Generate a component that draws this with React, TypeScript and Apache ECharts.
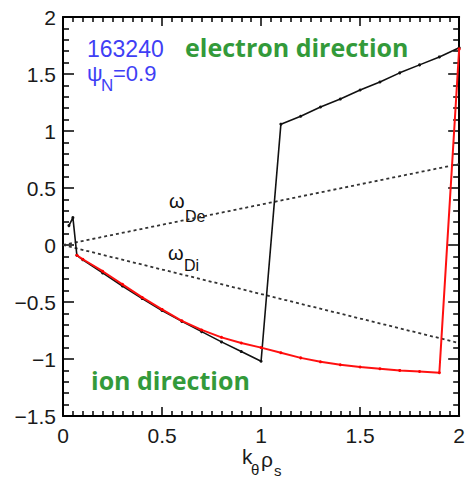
import React, { useEffect, useRef } from "react";
import * as echarts from "echarts";

// k_theta rho_s values for the solid curves
const kBlack = [0.03, 0.05, 0.07, 0.1, 0.2, 0.3, 0.4, 0.5, 0.6, 0.7, 0.8, 0.9, 1.0, 1.1, 1.2, 1.3, 1.4, 1.5, 1.6, 1.7, 1.8, 1.9, 2.0];
const freqBlack = [0.17, 0.24, -0.09, -0.13, -0.245, -0.36, -0.47, -0.575, -0.67, -0.76, -0.85, -0.935, -1.02, 1.06, 1.13, 1.21, 1.28, 1.36, 1.43, 1.51, 1.58, 1.65, 1.73];

const kRed = [0.07, 0.1, 0.2, 0.3, 0.4, 0.5, 0.6, 0.7, 0.8, 0.9, 1.0, 1.1, 1.2, 1.3, 1.4, 1.5, 1.6, 1.7, 1.8, 1.9, 2.0];
const freqRed = [-0.09, -0.125, -0.23, -0.345, -0.46, -0.565, -0.665, -0.745, -0.81, -0.86, -0.9, -0.945, -0.99, -1.025, -1.05, -1.07, -1.085, -1.1, -1.11, -1.12, 1.72];

// diamagnetic drift frequencies (straight lines)
const kDrift = [0, 2];
const omegaDe = [0, 0.71];
const omegaDi = [0, -0.86];

const xTickValues = [0, 0.5, 1, 1.5, 2];
const yTickValues = [-1.5, -1, -0.5, 0, 0.5, 1, 1.5, 2];

const zip = (xs: number[], ys: number[]) => xs.map((x, i) => [x, ys[i]]);
const fmt = (v: number) => String(v).replace("-", "\u2212");

export default function App() {
  const ref = useRef<HTMLDivElement>(null);
  useEffect(() => {
    if (!ref.current) return;
    const chart = echarts.init(ref.current, null, { renderer: "svg" });
    const tickFont = { fontFamily: "Liberation Sans", fontSize: 21, color: "#1a1a1a" };
    const axisLine = { show: true, onZero: false, lineStyle: { color: "#000", width: 2 } };
    const xBase = {
      type: "value" as const,
      min: xTickValues[0],
      max: xTickValues[xTickValues.length - 1],
      interval: 0.5,
      axisLine,
      axisTick: { show: true, inside: true, length: 9, lineStyle: { color: "#000", width: 1.5 } },
      minorTick: { show: true, splitNumber: 10, length: 5, lineStyle: { color: "#000", width: 1.5 } },
      splitLine: { show: false },
    };
    const yBase = {
      type: "value" as const,
      min: yTickValues[0],
      max: yTickValues[yTickValues.length - 1],
      interval: 0.5,
      axisLine,
      axisTick: { show: true, inside: true, length: 11, lineStyle: { color: "#000", width: 1.5 } },
      minorTick: { show: true, splitNumber: 5, length: 6, lineStyle: { color: "#000", width: 1.5 } },
      splitLine: { show: false },
    };
    const greenText = { fill: "#339a3a", fontFamily: "Open Sans", fontWeight: "bold", fontSize: 25 };
    const blue = "#3f3ff5";
    const blueFont = { fill: blue, fontFamily: "Liberation Sans", verticalAlign: "middle", lineHeight: 18 };
    chart.setOption({
      animation: false,
      backgroundColor: "#fff",
      grid: { left: 63, right: 6, top: 17, bottom: 62 },
      xAxis: [
        { ...xBase, position: "bottom", axisLabel: { ...tickFont, margin: 9, formatter: fmt } },
        { ...xBase, position: "top", axisLabel: { show: false } },
      ],
      yAxis: [
        { ...yBase, position: "left", axisLabel: { ...tickFont, margin: 7, formatter: fmt } },
        { ...yBase, position: "right", axisLabel: { show: false } },
      ],
      series: [
        {
          type: "line",
          data: zip(kDrift, omegaDe),
          showSymbol: false,
          lineStyle: { color: "#333", width: 1.8, type: [3, 3] },
          z: 2,
        },
        {
          type: "line",
          data: zip(kDrift, omegaDi),
          showSymbol: false,
          lineStyle: { color: "#333", width: 1.8, type: [3, 3] },
          z: 2,
        },
        {
          type: "line",
          data: zip(kBlack, freqBlack),
          symbol: "circle",
          symbolSize: 3,
          itemStyle: { color: "#111" },
          lineStyle: { color: "#111", width: 1.6 },
          z: 3,
        },
        {
          type: "line",
          data: zip(kRed, freqRed),
          symbol: "circle",
          symbolSize: 3,
          itemStyle: { color: "#ff0000" },
          lineStyle: { color: "#ff1010", width: 2 },
          z: 4,
        },
      ],
      graphic: [
        { type: "text", x: 87, y: 49, style: { text: "163240", fontSize: 23, ...blueFont } },
        { type: "text", x: 87, y: 73, style: { text: "\u03c8", fontSize: 22, ...blueFont } },
        { type: "text", x: 101, y: 85, style: { text: "N", fontSize: 17, ...blueFont, lineHeight: 14 } },
        { type: "text", x: 113, y: 73, style: { text: "=0.9", fontSize: 22, ...blueFont } },
        { type: "text", x: 185, y: 47, style: { text: "electron direction", ...greenText, verticalAlign: "middle" } },
        { type: "text", x: 91, y: 380, style: { text: "ion direction", ...greenText, verticalAlign: "middle" } },
        { type: "text", x: 169, y: 201, style: { text: "\u03c9", fill: "#111", fontFamily: "Liberation Sans", fontSize: 20, verticalAlign: "middle" } },
        { type: "text", x: 185, y: 216, style: { text: "De", fill: "#111", fontFamily: "Liberation Sans", fontSize: 16, verticalAlign: "middle" } },
        { type: "text", x: 168, y: 253, style: { text: "\u03c9", fill: "#111", fontFamily: "Liberation Sans", fontSize: 20, verticalAlign: "middle" } },
        { type: "text", x: 184, y: 265, style: { text: "Di", fill: "#111", fontFamily: "Liberation Sans", fontSize: 16, verticalAlign: "middle" } },
        { type: "text", x: 242, y: 456, style: { text: "k", fill: "#1a1a1a", fontFamily: "Liberation Sans", fontSize: 21, verticalAlign: "middle" } },
        { type: "text", x: 251, y: 469, style: { text: "\u03b8", fill: "#1a1a1a", fontFamily: "Liberation Sans", fontSize: 15, verticalAlign: "middle" } },
        { type: "text", x: 261, y: 459, style: { text: "\u03c1", fill: "#1a1a1a", fontFamily: "Liberation Sans", fontSize: 21, verticalAlign: "middle" } },
        { type: "text", x: 274, y: 470, style: { text: "s", fill: "#1a1a1a", fontFamily: "Liberation Sans", fontSize: 15, verticalAlign: "middle" } },
      ],
    });
    return () => chart.dispose();
  }, []);
  return <div ref={ref} style={{ position: "absolute", left: 0, top: 0, width: 468, height: 478 }} />;
}
